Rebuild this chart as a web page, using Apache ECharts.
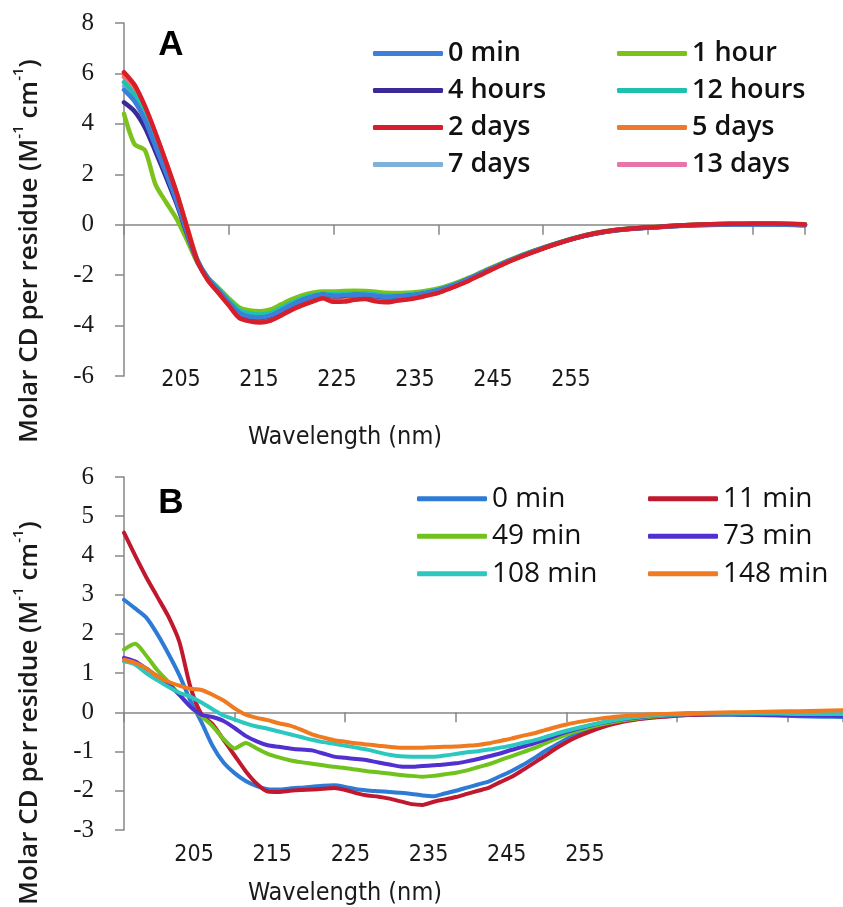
<!DOCTYPE html>
<html>
<head>
<meta charset="utf-8">
<script src="https://cdn.jsdelivr.net/npm/echarts@6/dist/echarts.min.js"></script>
<style>
  html, body { margin: 0; padding: 0; background: #fff; }
  #panelA { width: 843px; height: 455px; }
  #panelB { width: 843px; height: 452px; }
</style>
</head>
<body>
<div id="panelA"></div>
<div id="panelB"></div>
<script>
// ---- Panel A: CD spectra over 13 days ----
const waveA = [195,196,197,198,199,200,201,202,203,204,205,206,207,208,209,210,211,212,213,214,215,216,217,218,219,220,221,222,223,224,225,226,227,228,229,230,
  232,234,236,238,240,242,244,246,248,250,252,254,256,258,260];

const a0min    = [5.35,4.9,4.15,3.1,2.05,0.95,-0.3,-1.45,-2.15,-2.6,-3.08,-3.5,-3.65,-3.68,-3.6,-3.4,-3.18,-3.0,-2.85,-2.78,-2.82,-2.8,-2.78,-2.78,-2.82,-2.86,-2.85,-2.82,-2.77,-2.7,-2.6,-2.47,-2.31,-2.13,-1.94,-1.75,
  -1.39,-1.07,-0.79,-0.54,-0.35,-0.22,-0.15,-0.1,-0.05,-0.02,0.0,0.01,0.01,0.0,-0.03];
const a1hour   = [4.4,3.2,2.95,1.6,0.9,0.25,-0.6,-1.5,-2.1,-2.5,-2.92,-3.28,-3.4,-3.43,-3.36,-3.16,-2.96,-2.8,-2.7,-2.65,-2.65,-2.63,-2.62,-2.63,-2.66,-2.7,-2.71,-2.7,-2.67,-2.61,-2.53,-2.41,-2.26,-2.09,-1.9,-1.71,
  -1.36,-1.05,-0.77,-0.52,-0.33,-0.2,-0.13,-0.08,-0.03,0.01,0.03,0.04,0.04,0.03,0.01];
const a4hours  = [4.85,4.5,3.85,2.9,1.9,0.85,-0.35,-1.45,-2.15,-2.62,-3.1,-3.52,-3.68,-3.7,-3.62,-3.42,-3.2,-3.0,-2.86,-2.78,-2.84,-2.82,-2.79,-2.8,-2.84,-2.88,-2.86,-2.83,-2.78,-2.71,-2.61,-2.48,-2.32,-2.14,-1.95,-1.76,
  -1.4,-1.08,-0.79,-0.54,-0.35,-0.22,-0.14,-0.09,-0.04,-0.01,0.01,0.02,0.02,0.01,-0.01];
const a12hours = [5.65,5.15,4.35,3.3,2.2,1.05,-0.25,-1.4,-2.1,-2.55,-3.0,-3.38,-3.52,-3.56,-3.5,-3.3,-3.1,-2.92,-2.8,-2.74,-2.76,-2.74,-2.72,-2.72,-2.76,-2.8,-2.8,-2.78,-2.74,-2.67,-2.58,-2.45,-2.3,-2.12,-1.93,-1.74,
  -1.38,-1.06,-0.78,-0.53,-0.34,-0.21,-0.14,-0.09,-0.04,0.0,0.02,0.03,0.03,0.02,0.0];
const a2days   = [6.05,5.55,4.7,3.65,2.5,1.3,-0.1,-1.45,-2.2,-2.7,-3.2,-3.7,-3.83,-3.88,-3.8,-3.6,-3.38,-3.2,-3.05,-2.92,-3.06,-3.05,-2.98,-2.95,-3.04,-3.08,-3.02,-2.97,-2.9,-2.8,-2.7,-2.55,-2.38,-2.2,-2.0,-1.8,
  -1.42,-1.1,-0.8,-0.54,-0.34,-0.21,-0.14,-0.09,-0.03,0.01,0.03,0.04,0.05,0.04,0.01];
const a5days   = [5.95,5.5,4.65,3.6,2.5,1.3,-0.05,-1.4,-2.18,-2.68,-3.18,-3.66,-3.8,-3.85,-3.78,-3.57,-3.35,-3.17,-3.02,-2.9,-3.02,-3.02,-2.96,-2.93,-3.02,-3.06,-3.0,-2.95,-2.88,-2.79,-2.69,-2.54,-2.37,-2.19,-1.99,-1.79,
  -1.41,-1.09,-0.8,-0.54,-0.34,-0.21,-0.14,-0.08,-0.03,0.01,0.03,0.04,0.05,0.04,0.02];
const a7days   = [5.5,5.05,4.25,3.2,2.15,1.0,-0.25,-1.4,-2.12,-2.58,-3.05,-3.45,-3.6,-3.63,-3.56,-3.36,-3.15,-2.97,-2.83,-2.76,-2.8,-2.78,-2.76,-2.76,-2.8,-2.84,-2.83,-2.8,-2.76,-2.69,-2.59,-2.46,-2.3,-2.12,-1.93,-1.74,
  -1.38,-1.06,-0.78,-0.53,-0.34,-0.21,-0.14,-0.09,-0.04,0.0,0.02,0.03,0.03,0.02,0.0];
const a13days  = [5.85,5.4,4.6,3.55,2.45,1.25,-0.1,-1.4,-2.15,-2.65,-3.15,-3.62,-3.78,-3.82,-3.75,-3.55,-3.33,-3.15,-3.0,-2.88,-3.0,-3.0,-2.94,-2.92,-3.0,-3.04,-2.99,-2.94,-2.87,-2.78,-2.68,-2.53,-2.36,-2.18,-1.98,-1.78,
  -1.4,-1.08,-0.79,-0.53,-0.33,-0.2,-0.13,-0.08,-0.03,0.01,0.03,0.04,0.04,0.04,0.02];

// ---- Panel B: CD spectra over 148 minutes ----
const waveB = [195,196,197,198,199,200,201,202,203,204,205,206,207,208,209,210,211,212,213,214,215,216,217,218,219,220,221,222,223,224,225,226,227,228,229,230,231,232,233,234,235,236,
  238,240,242,244,246,248,250,252,254,256,258,260];

const b0min   = [2.87,2.65,2.42,2.0,1.5,0.95,0.3,-0.25,-0.85,-1.28,-1.55,-1.75,-1.88,-1.96,-1.97,-1.94,-1.92,-1.9,-1.87,-1.86,-1.9,-1.96,-1.99,-2.01,-2.03,-2.05,-2.08,-2.12,-2.14,-2.07,-2.0,-1.92,-1.84,-1.76,-1.63,-1.5,-1.35,-1.18,-1.0,-0.84,-0.68,-0.55,
  -0.36,-0.23,-0.15,-0.1,-0.07,-0.06,-0.06,-0.07,-0.08,-0.1,-0.11,-0.12];
const b11min  = [4.58,4.0,3.45,2.95,2.45,1.8,0.65,-0.05,-0.3,-0.7,-1.1,-1.5,-1.82,-2.02,-2.03,-2.0,-1.98,-1.97,-1.95,-1.93,-1.98,-2.06,-2.12,-2.15,-2.2,-2.27,-2.34,-2.36,-2.28,-2.22,-2.16,-2.08,-2.0,-1.92,-1.78,-1.65,-1.48,-1.3,-1.12,-0.93,-0.76,-0.62,
  -0.4,-0.25,-0.16,-0.11,-0.07,-0.05,-0.04,-0.03,-0.03,-0.02,-0.02,-0.02];
const b49min  = [1.6,1.75,1.45,1.08,0.78,0.45,0.15,-0.1,-0.35,-0.68,-0.92,-0.78,-0.92,-1.06,-1.15,-1.22,-1.27,-1.31,-1.35,-1.39,-1.42,-1.46,-1.5,-1.53,-1.56,-1.6,-1.62,-1.64,-1.62,-1.58,-1.54,-1.48,-1.4,-1.32,-1.22,-1.12,-1.02,-0.92,-0.8,-0.68,-0.57,-0.47,
  -0.32,-0.21,-0.13,-0.08,-0.05,-0.03,-0.02,-0.01,-0.01,0.0,0.0,0.0];
const b73min  = [1.39,1.3,1.12,0.92,0.72,0.45,0.15,-0.06,-0.12,-0.22,-0.4,-0.6,-0.74,-0.84,-0.88,-0.92,-0.95,-0.97,-1.05,-1.13,-1.16,-1.19,-1.22,-1.28,-1.33,-1.38,-1.39,-1.37,-1.35,-1.33,-1.3,-1.25,-1.19,-1.12,-1.05,-0.96,-0.88,-0.8,-0.7,-0.6,-0.5,-0.42,
  -0.28,-0.18,-0.11,-0.07,-0.05,-0.05,-0.05,-0.06,-0.07,-0.08,-0.08,-0.09];
const b108min = [1.3,1.22,1.0,0.82,0.65,0.5,0.4,0.25,0.08,-0.08,-0.18,-0.28,-0.36,-0.42,-0.49,-0.56,-0.63,-0.7,-0.76,-0.8,-0.85,-0.9,-0.95,-1.02,-1.08,-1.12,-1.13,-1.13,-1.13,-1.1,-1.06,-1.02,-0.99,-0.95,-0.9,-0.85,-0.78,-0.72,-0.64,-0.55,-0.47,-0.4,
  -0.27,-0.17,-0.1,-0.06,-0.04,-0.03,-0.03,-0.03,-0.03,-0.04,-0.04,-0.04];
const b148min = [1.34,1.26,1.12,0.92,0.78,0.68,0.6,0.57,0.45,0.3,0.1,-0.06,-0.14,-0.2,-0.28,-0.34,-0.44,-0.56,-0.64,-0.71,-0.75,-0.79,-0.82,-0.85,-0.88,-0.9,-0.9,-0.9,-0.89,-0.88,-0.87,-0.85,-0.83,-0.79,-0.73,-0.67,-0.6,-0.54,-0.46,-0.38,-0.31,-0.25,
  -0.16,-0.1,-0.06,-0.04,-0.02,-0.01,0.0,0.01,0.02,0.03,0.04,0.05];

// Wavelength tick labels printed under each panel
const tickLabels = ['205', '215', '225', '235', '245', '255'];

// Legend columns
const legendA1 = ['0 min', '4 hours', '2 days', '7 days'];
const legendA2 = ['1 hour', '12 hours', '5 days', '13 days'];
const legendB1 = ['0 min', '49 min', '108 min'];
const legendB2 = ['11 min', '73 min', '148 min'];

const AXIS_GREY = '#868686';
const NARROW = '"Liberation Sans Narrow", "DejaVu Sans Condensed", "Liberation Sans", sans-serif';

function zip(xs, ys) { return xs.map((x, i) => [x, ys[i]]); }

function lineSeries(name, wave, vals, color, width) {
  return {
    type: 'line', name: name, data: zip(wave, vals),
    xAxisIndex: 0, yAxisIndex: 0,
    showSymbol: false, symbol: 'none', smooth: 0.25,
    lineStyle: { color: color, width: width, cap: 'round', join: 'round' },
    itemStyle: { color: color },
    emphasis: { disabled: true }
  };
}

// Vertical axis title, reading bottom to top, starting at (x, bottomY)
function yTitle(x, bottomY) {
  return {
    type: 'text', x: x, y: bottomY, rotation: Math.PI / 2,
    style: {
      text: '{m|Molar CD per residue (M}{s|-1}{m| cm}{s|-1}{m|)}',
      align: 'left', verticalAlign: 'middle',
      rich: {
        m: { fontFamily: '"Open Sans", sans-serif', fontWeight: 600, fontSize: 26, lineHeight: 32, fill: '#1a1a1a', verticalAlign: 'bottom' },
        s: { fontFamily: '"Open Sans", sans-serif', fontWeight: 600, fontSize: 15, lineHeight: 19, fill: '#1a1a1a', verticalAlign: 'top' }
      }
    }
  };
}

function buildOption(cfg) {
  const legendText = { fontFamily: '"Open Sans", sans-serif', fontWeight: cfg.legendWeight, fontSize: cfg.legendSize, color: '#111', lineHeight: cfg.rowH };
  const legendBase = {
    orient: 'vertical', icon: 'roundRect', itemWidth: 70, itemHeight: 5, itemGap: 0,
    top: cfg.legendTop, textStyle: legendText, selectedMode: false
  };
  return {
    animation: false,
    backgroundColor: '#fff',
    grid: [
      { left: 124, top: cfg.top, width: cfg.width, height: 353 },
      { left: cfg.lblLeft, top: cfg.lblTop, width: cfg.lblWidth, height: 1 }
    ],
    xAxis: [
      {
        type: 'value', gridIndex: 0, min: 195, max: 260, interval: 10,
        axisLine: { show: true, onZero: true, lineStyle: { color: AXIS_GREY, width: 1.5 } },
        axisTick: { show: true, length: 10, lineStyle: { color: AXIS_GREY, width: 1.5 } },
        axisLabel: { show: false }, splitLine: { show: false }
      },
      {
        type: 'category', gridIndex: 1, data: tickLabels, boundaryGap: true,
        axisLine: { show: false }, axisTick: { show: false }, splitLine: { show: false },
        axisLabel: { interval: 0, margin: 8, fontFamily: NARROW, fontSize: 23, color: '#1a1a1a' }
      }
    ],
    yAxis: [
      {
        type: 'value', gridIndex: 0, min: cfg.ymin, max: cfg.ymax, interval: cfg.yint,
        axisLine: { show: true, onZero: false, lineStyle: { color: AXIS_GREY, width: 1.5 } },
        axisTick: { show: true, length: 9, lineStyle: { color: AXIS_GREY, width: 1.5 } },
        axisLabel: { margin: 30, fontFamily: '"Liberation Serif", serif', fontSize: 25, color: '#1a1a1a' },
        splitLine: { show: false }
      },
      { type: 'value', gridIndex: 1, show: false }
    ],
    legend: [
      Object.assign({}, legendBase, { left: cfg.leg1Left, data: cfg.leg1 }),
      Object.assign({}, legendBase, { left: cfg.leg2Left, data: cfg.leg2 })
    ],
    graphic: [
      yTitle(27, cfg.titleBottom),
      {
        type: 'text', x: 345, y: cfg.wlY,
        style: { text: 'Wavelength (nm)', align: 'center', verticalAlign: 'middle', fontFamily: NARROW, fontSize: 25, fill: '#1a1a1a' }
      },
      {
        type: 'text', x: 171, y: cfg.letterY,
        style: { text: cfg.letter, align: 'center', verticalAlign: 'middle', fontFamily: '"Liberation Sans", Arial, sans-serif', fontWeight: 'bold', fontSize: 35, fill: '#000' }
      }
    ],
    series: cfg.series
  };
}

const chartA = echarts.init(document.getElementById('panelA'), null, { renderer: 'canvas' });
chartA.setOption(buildOption({
  top: 23, width: 681, ymin: -6, ymax: 8, yint: 2,
  lblLeft: 142, lblTop: 360, lblWidth: 468,
  legendTop: 30, rowH: 37, legendSize: 27, legendWeight: 600,
  leg1Left: 368, leg2Left: 612, leg1: legendA1, leg2: legendA2,
  titleBottom: 443, wlY: 437, letter: 'A', letterY: 45,
  series: [
    lineSeries('13 days', waveA, a13days, '#e874a8', 4.5),
    lineSeries('5 days', waveA, a5days, '#f0782a', 4.5),
    lineSeries('7 days', waveA, a7days, '#7eb2da', 4.5),
    lineSeries('1 hour', waveA, a1hour, '#7cc21a', 4.5),
    lineSeries('12 hours', waveA, a12hours, '#20c0b0', 4.5),
    lineSeries('4 hours', waveA, a4hours, '#3a2a98', 4.5),
    lineSeries('0 min', waveA, a0min, '#3c7fd8', 4.5),
    lineSeries('2 days', waveA, a2days, '#d81e2a', 4.5)
  ]
}));

const chartB = echarts.init(document.getElementById('panelB'), null, { renderer: 'canvas' });
chartB.setOption(buildOption({
  top: 22, width: 732, ymin: -3, ymax: 6, yint: 1,
  lblLeft: 155, lblTop: 380, lblWidth: 469,
  legendTop: 20, rowH: 37.5, legendSize: 28, legendWeight: 400,
  leg1Left: 412, leg2Left: 643, leg1: legendB1, leg2: legendB2,
  titleBottom: 450, wlY: 438, letter: 'B', letterY: 48,
  series: [
    lineSeries('0 min', waveB, b0min, '#2e7bd6', 4),
    lineSeries('11 min', waveB, b11min, '#c0182e', 4),
    lineSeries('49 min', waveB, b49min, '#70c21c', 4),
    lineSeries('73 min', waveB, b73min, '#5030d0', 4),
    lineSeries('108 min', waveB, b108min, '#2cc8c0', 4),
    lineSeries('148 min', waveB, b148min, '#f07a20', 4)
  ]
}));
</script>
</body>
</html>
